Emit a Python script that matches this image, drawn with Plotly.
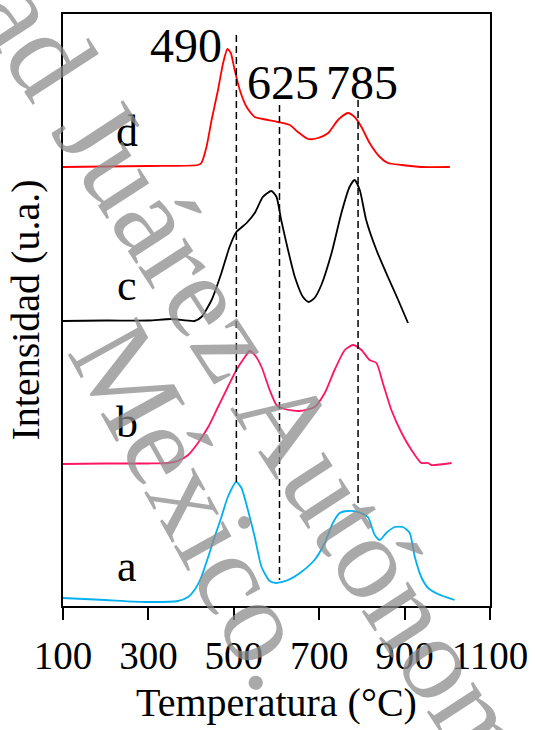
import plotly.graph_objects as go

# ---- data (temperature in °C, intensity in arbitrary offset units) ----
temp_a = [100, 198, 299, 369, 393, 408, 424, 440, 455, 471, 486, 506, 518, 533, 549, 565, 584, 600, 627, 658,
          689, 713, 732, 748, 767, 791, 814, 830, 842, 857, 877, 896, 912, 924, 939, 955, 978, 1017]
int_a = [8, 6, 4, 5, 9, 16, 29, 49, 69, 89, 109, 124, 118, 96, 69, 39, 25, 23, 26, 34,
         46, 63, 83, 93, 95, 94, 89, 71, 66, 73, 79, 79, 73, 49, 29, 18, 12, 6]

temp_b = [100, 200, 300, 346, 369, 393, 416, 440, 463, 486, 506, 526, 537, 549, 565, 584, 600, 619, 654, 689,
          713, 736, 760, 779, 799, 818, 834, 849, 869, 893, 916, 939, 955, 963, 1010]
int_b = [142, 142.5, 142.5, 143, 145, 151, 163, 179, 199, 219, 236, 249, 255, 251, 239, 216, 201, 197, 195, 199,
         213, 236, 256, 261, 256, 246, 243, 223, 196, 173, 156, 143, 143, 141, 143]

temp_c = [100, 200, 300, 354, 408, 424, 448, 471, 490, 506, 530, 549, 568, 588, 600, 611, 627, 643, 662, 675,
          689, 705, 729, 752, 771, 783, 795, 810, 834, 861, 885, 908]
int_c = [285, 285.5, 285.5, 287, 285, 289, 306, 333, 359, 374, 383, 393, 409, 415, 409, 386, 356, 329, 309, 304,
         308, 321, 353, 393, 419, 426, 416, 386, 356, 329, 306, 283]

temp_d = [100, 200, 300, 416, 424, 436, 448, 463, 475, 485, 493, 502, 514, 530, 549, 568, 604, 631, 650, 674,
          697, 721, 744, 767, 783, 799, 818, 842, 861, 893, 939, 1006]
int_d = [439, 439.5, 440, 441, 443, 459, 486, 516, 543, 557, 553, 536, 516, 499, 489, 487, 484, 481, 474, 467,
         468, 473, 486, 493, 489, 479, 463, 449, 443, 441, 439, 439]

curve_labels = ["a", "b", "c", "d"]
curve_label_y = [40, 184, 321, 475]
curve_label_x = 249

peak_lines_x = [506, 607, 791]
peak_lines_top = [571, 501, 506]
peak_lines_bottom = [124, 26, 99]
peak_texts = ["490", "625", "785"]
peak_text_x = [387, 615, 801]
peak_text_y = [561, 524, 524]

x_ticks = [100, 300, 500, 700, 900, 1100]

FONT = "Liberation Serif"

fig = go.Figure()

series = [(temp_a, int_a, "#00B0F0"), (temp_b, int_b, "#FF1464"),
          (temp_c, int_c, "#000000"), (temp_d, int_d, "#FF0000")]
for (tx, iy, col), name in zip(series, curve_labels):
    fig.add_trace(go.Scatter(x=tx, y=iy, mode="lines", name=name,
                             line=dict(color=col, width=1.8, shape="spline", smoothing=0.6),
                             showlegend=False, hoverinfo="skip"))

for px, top, bot in zip(peak_lines_x, peak_lines_top, peak_lines_bottom):
    fig.add_trace(go.Scatter(x=[px, px], y=[top, bot], mode="lines",
                             line=dict(color="black", width=1.5, dash="7px,4px"),
                             showlegend=False, hoverinfo="skip"))

for t, x, y in zip(peak_texts, peak_text_x, peak_text_y):
    fig.add_annotation(x=x, y=y, xref="x", yref="y", text=t, showarrow=False,
                       xanchor="center", yanchor="middle",
                       font=dict(family=FONT, size=48, color="black"))

for t, y in zip(curve_labels, curve_label_y):
    fig.add_annotation(x=curve_label_x, y=y, xref="x", yref="y", text=t, showarrow=False,
                       xanchor="center", yanchor="middle",
                       font=dict(family=FONT, size=44, color="black"))

# watermark
W0, W1, H0, H1 = 63, 490, 14, 606
def paper(px, py):
    return (px - W0) / (W1 - W0), (H1 - py) / (H1 - H0)

wm1 = paper(296, 437)
wm2 = paper(198, 505)
fig.add_annotation(x=wm1[0], y=wm1[1], xref="paper", yref="paper",
                   xanchor="center", yanchor="middle",
                   text="Universidad Juárez Autónoma de Tabasco", showarrow=False, textangle=57,
                   font=dict(family=FONT, size=120, color="rgba(140,140,140,0.75)"))
fig.add_annotation(x=wm2[0], y=wm2[1], xref="paper", yref="paper",
                   xanchor="center", yanchor="middle",
                   text="México.", showarrow=False, textangle=61,
                   font=dict(family=FONT, size=120, color="rgba(140,140,140,0.75)"))

fig.update_layout(
    width=535, height=730,
    margin=dict(l=W0, r=535 - W1, t=H0, b=730 - H1, autoexpand=False),
    paper_bgcolor="white", plot_bgcolor="white",
    font=dict(family=FONT, color="black"),
    xaxis=dict(range=[100, 1100], tickvals=x_ticks, ticktext=[str(v) for v in x_ticks],
               ticks="outside", ticklen=12, tickwidth=1.5, tickcolor="black",
               showline=True, linecolor="black", linewidth=1.5, mirror=True,
               showgrid=False, zeroline=False, automargin=False,
               tickfont=dict(family=FONT, size=39, color="black"),
               ticklabelstandoff=2,
               title=dict(text="Temperatura (°C)", font=dict(family=FONT, size=40, color="black"),
                          standoff=12)),
    xaxis2=dict(range=[100, 1100], overlaying="x", anchor="y", side="bottom",
                tickmode="linear", tick0=100, dtick=100, automargin=False,
                ticks="inside", ticklen=9, tickwidth=1.5, tickcolor="black",
                showticklabels=False, showline=False, showgrid=False, zeroline=False),
    yaxis=dict(range=[0, 592], showticklabels=False, ticks="", automargin=False,
               showline=True, linecolor="black", linewidth=1.5, mirror=True,
               showgrid=False, zeroline=False,
               title=dict(text="Intensidad (u.a.)", font=dict(family=FONT, size=40, color="black"),
                          standoff=9)),
)

fig.write_html("out.html", config={"displayModeBar": False},
               post_script="document.body.style.margin='0';document.body.style.overflow='hidden';")
